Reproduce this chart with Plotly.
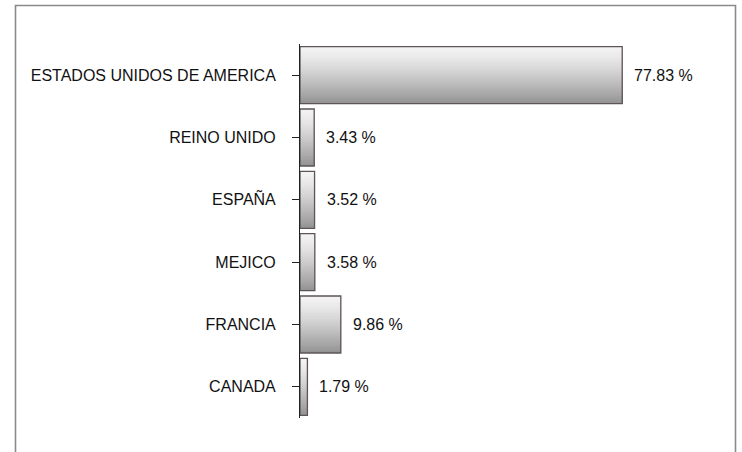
import plotly.graph_objects as go

categories = ["ESTADOS UNIDOS DE AMERICA", "REINO UNIDO", "ESPAÑA", "MEJICO", "FRANCIA", "CANADA"]
values = [77.83, 3.43, 3.52, 3.58, 9.86, 1.79]
value_labels = ["77.83 %", "3.43 %", "3.52 %", "3.58 %", "9.86 %", "1.79 %"]

W, H = 742, 452
ML, MR, MT, MB = 300, 28, 44, 34
FONT = "Liberation Sans, Arial, sans-serif"

fig = go.Figure()

# gradient fill built from overlaid slices, each running to the bar bottom
BW = 0.915
N = 40
top_c, bot_c = 243, 148
for k in range(N):
    t = k / (N - 1)
    c = int(round(top_c + (bot_c - top_c) * (t ** 1.3)))
    off = -BW / 2 + k * BW / N
    fig.add_trace(go.Bar(
        x=values, y=categories, orientation="h",
        offset=off, width=BW / 2 - off,
        marker=dict(color=f"rgb({c},{c},{c})", line=dict(width=0)),
        hoverinfo="skip", showlegend=False,
    ))

# outline
fig.add_trace(go.Bar(
    x=values, y=categories, orientation="h",
    offset=-BW / 2, width=BW,
    marker=dict(color="rgba(0,0,0,0)", line=dict(color="#5e5454", width=1.3)),
    showlegend=False,
))

for v, c, lab in zip(values, categories, value_labels):
    fig.add_annotation(x=v, y=c, text=lab, showarrow=False, xanchor="left",
                       xshift=10, font=dict(family=FONT, size=16, color="#111"))

pw = W - ML - MR
ph = H - MT - MB
def px_x(p):
    return (p - ML) / pw
def px_y(p):
    return (H - MB - p) / ph

# outer frame (bottom runs off the page)
fig.add_shape(type="rect", xref="paper", yref="paper",
              x0=px_x(15.5), x1=px_x(735.5), y0=px_y(470), y1=px_y(5.5),
              line=dict(color="#8a8a8a", width=1.6), fillcolor="rgba(0,0,0,0)", layer="below")

fig.update_layout(
    width=W, height=H,
    margin=dict(l=ML, r=MR, t=MT, b=MB),
    barmode="overlay",
    plot_bgcolor="white", paper_bgcolor="white",
    font=dict(family=FONT, size=16, color="#111"),
    xaxis=dict(range=[0, 100], visible=False, showgrid=False, zeroline=False),
    yaxis=dict(type="category", autorange="reversed", showgrid=False, zeroline=False,
               showline=True, linecolor="#222", linewidth=1,
               ticks="outside", ticklen=7, tickcolor="#222", tickwidth=1,
               ticklabelstandoff=13, tickfont=dict(family=FONT, size=16, color="#111")),
)

fig.write_html("out.html")
